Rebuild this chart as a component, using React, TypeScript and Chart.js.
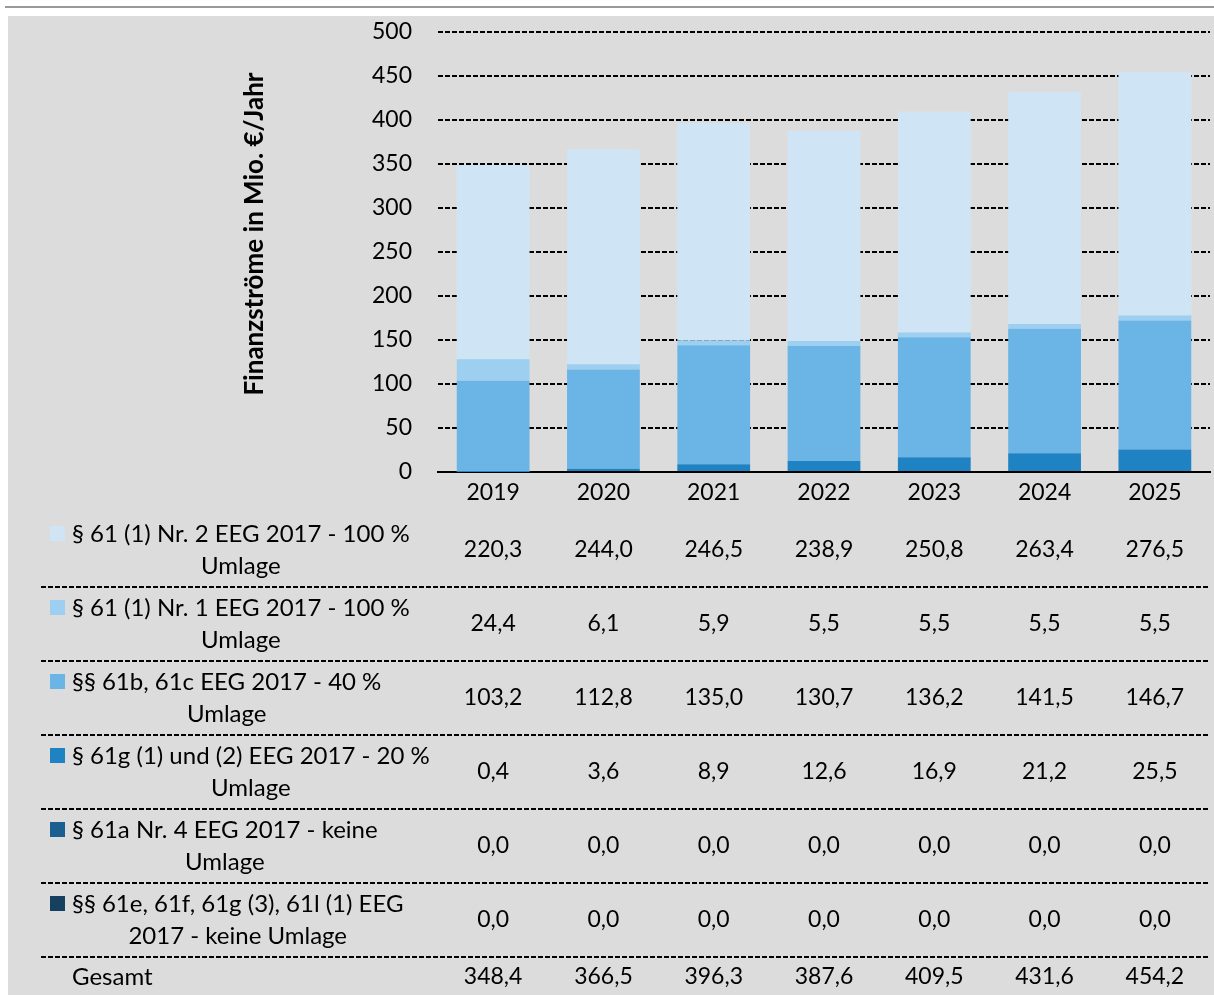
import React, { useEffect, useRef } from "react";
import { Chart, registerables } from "chart.js";

Chart.register(...registerables);

const FONT = "Lato, 'Open Sans', sans-serif";

const years = ["2019", "2020", "2021", "2022", "2023", "2024", "2025"];

// Series (table order, top row first)
const nr2Umlage100 = [220.3, 244.0, 246.5, 238.9, 250.8, 263.4, 276.5];
const nr1Umlage100 = [24.4, 6.1, 5.9, 5.5, 5.5, 5.5, 5.5];
const p61b61c40 = [103.2, 112.8, 135.0, 130.7, 136.2, 141.5, 146.7];
const p61g20 = [0.4, 3.6, 8.9, 12.6, 16.9, 21.2, 25.5];
const p61aKeine = [0.0, 0.0, 0.0, 0.0, 0.0, 0.0, 0.0];
const p61eKeine = [0.0, 0.0, 0.0, 0.0, 0.0, 0.0, 0.0];
const gesamt = [348.4, 366.5, 396.3, 387.6, 409.5, 431.6, 454.2];

const seriesLabels = [
  ["§ 61 (1) Nr. 2 EEG 2017 - 100 %", "Umlage"],
  ["§ 61 (1) Nr. 1 EEG 2017 - 100 %", "Umlage"],
  ["§§ 61b, 61c EEG 2017 - 40 %", "Umlage"],
  ["§ 61g (1) und (2) EEG 2017 - 20 %", "Umlage"],
  ["§ 61a Nr. 4 EEG 2017 - keine", "Umlage"],
  ["§§ 61e, 61f, 61g (3), 61l (1) EEG", "2017 - keine Umlage"],
];
const seriesValues = [nr2Umlage100, nr1Umlage100, p61b61c40, p61g20, p61aKeine, p61eKeine];
const seriesColors = ["#cfe5f5", "#9dcff0", "#6ab5e6", "#1f82c3", "#1b5f91", "#15405f"];
const totalLabel = "Gesamt";
const yTitle = "Finanzströme in Mio. €/Jahr";
const yMax = 500;
const yStep = 50;

const fmt = (v: number) => v.toFixed(1).replace(".", ",");

const bgPlugin = {
  id: "bgPlugin",
  beforeDraw(chart: any) {
    const { ctx, width, height } = chart;
    ctx.save();
    ctx.fillStyle = "#ffffff";
    ctx.fillRect(0, 0, width, height);
    ctx.fillStyle = "#dcdcdc";
    ctx.fillRect(8, 16, width - 8, height - 16);
    ctx.strokeStyle = "#999999";
    ctx.lineWidth = 2;
    ctx.beginPath();
    ctx.moveTo(5, 7);
    ctx.lineTo(width, 7);
    ctx.stroke();
    ctx.restore();
  },
};

const tablePlugin = {
  id: "tablePlugin",
  afterDraw(chart: any) {
    const { ctx, chartArea } = chart;
    const xs = chart.scales.x;
    const ys = chart.scales.y;
    ctx.save();
    // Y title
    ctx.font = `bold 26px ${FONT}`;
    ctx.fillStyle = "#000";
    ctx.textAlign = "center";
    ctx.textBaseline = "middle";
    ctx.save();
    ctx.translate(255, (ys.top + ys.bottom) / 2 - 18);
    ctx.rotate(-Math.PI / 2);
    ctx.fillText(yTitle, 0, 0);
    ctx.restore();

    const rowTop = chartArea.bottom + 41;
    const rowH = 74;
    const lineH = 32;
    const textLeft = 72;
    const sepLeft = 41;
    const labelFont = `24px ${FONT}`;
    const numFont = `23px ${FONT}`;

    const sep = (y: number) => {
      ctx.save();
      ctx.strokeStyle = "#000";
      ctx.lineWidth = 2;
      ctx.setLineDash([5, 2]);
      ctx.beginPath();
      ctx.moveTo(sepLeft, y);
      ctx.lineTo(chartArea.right, y);
      ctx.stroke();
      ctx.restore();
    };

    seriesLabels.forEach((lines, i) => {
      const cy = rowTop + rowH * i + rowH / 2;
      ctx.font = labelFont;
      const w1 = ctx.measureText(lines[0]).width;
      const cx = textLeft + w1 / 2;
      ctx.fillStyle = "#000";
      ctx.textAlign = "center";
      ctx.textBaseline = "middle";
      lines.forEach((ln, j) => {
        ctx.fillText(ln, cx, cy + (j - (lines.length - 1) / 2) * lineH);
      });
      ctx.fillStyle = seriesColors[i];
      ctx.fillRect(50, cy - lineH / 2 - 8, 15, 15);
      ctx.fillStyle = "#000";
      ctx.font = numFont;
      seriesValues[i].forEach((v, k) => {
        ctx.fillText(fmt(v), xs.getPixelForValue(k), cy);
      });
      sep(rowTop + rowH * (i + 1));
    });

    const gy = rowTop + rowH * seriesLabels.length + 20;
    ctx.font = labelFont;
    ctx.textAlign = "left";
    ctx.fillText(totalLabel, textLeft, gy);
    ctx.font = numFont;
    ctx.textAlign = "center";
    gesamt.forEach((v, k) => {
      ctx.fillText(fmt(v), xs.getPixelForValue(k), gy);
    });
    ctx.restore();
  },
};

export default function App() {
  const ref = useRef<HTMLCanvasElement | null>(null);

  useEffect(() => {
    if (!ref.current) return;
    const stackOrder = [5, 4, 3, 2, 1, 0];
    const chart = new Chart(ref.current, {
      type: "bar",
      data: {
        labels: years,
        datasets: stackOrder.map((i) => ({
          label: seriesLabels[i].join(" "),
          data: seriesValues[i],
          backgroundColor: seriesColors[i],
          borderWidth: 0,
          barPercentage: 1,
          categoryPercentage: 0.66,
        })),
      },
      options: {
        animation: false,
        responsive: false,
        maintainAspectRatio: false,
        layout: { padding: { top: 32, right: 4, left: 0, bottom: 0 } },
        plugins: { legend: { display: false }, tooltip: { enabled: false } },
        scales: {
          x: {
            stacked: true,
            grid: { display: false, drawTicks: false },
            border: { display: true, color: "#000", width: 2 },
            ticks: { color: "#000", font: { family: FONT, size: 23 }, padding: 7 },
            afterFit: (s: any) => {
              s.height = 995 - 472;
            },
          },
          y: {
            stacked: true,
            min: 0,
            max: yMax,
            grid: { display: true, color: "#000", lineWidth: 2, drawTicks: false },
            border: { display: false, dash: [5, 2] },
            ticks: { stepSize: yStep, color: "#000", font: { family: FONT, size: 23 }, padding: 26 },
            afterFit: (s: any) => {
              s.width = 438;
              s.paddingTop = 0;
              s.paddingBottom = 0;
            },
          },
        },
      },
      plugins: [bgPlugin, tablePlugin],
    });
    return () => chart.destroy();
  }, []);

  return (
    <div style={{ position: "fixed", left: 0, top: 0, width: 1214, height: 995 }}>
      <canvas ref={ref} width={1214} height={995} style={{ display: "block", width: 1214, height: 995 }} />
    </div>
  );
}
